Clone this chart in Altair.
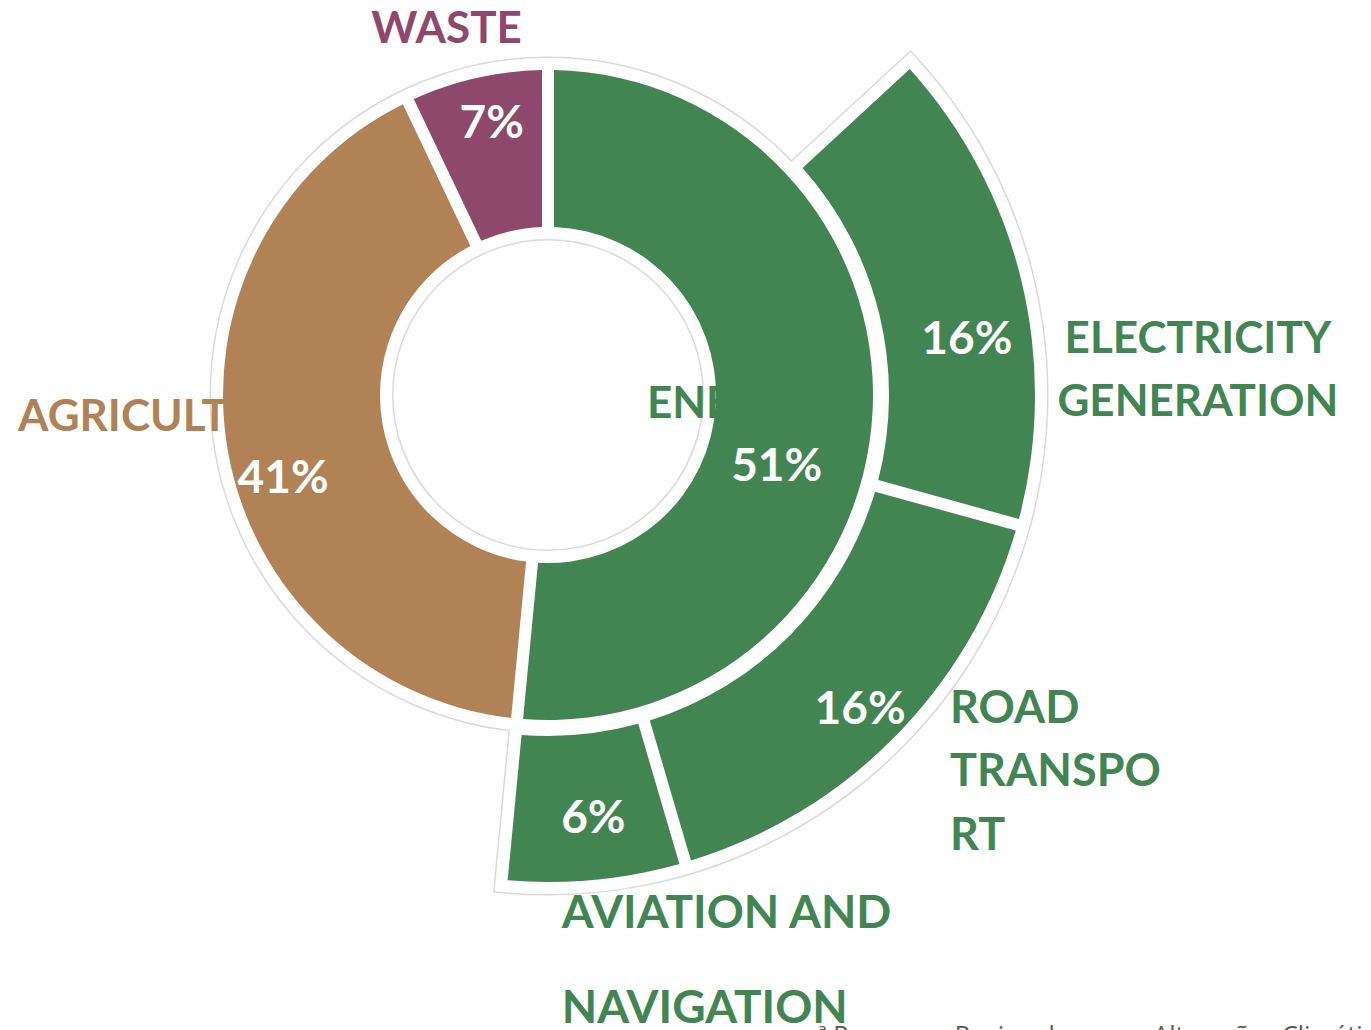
import math
import altair as alt
import pandas as pd

# ---------------- data ----------------
inner_categories = ["ENERGY", "AGRICULTURE", "WASTE"]
inner_values = [51, 41, 7]
inner_colors = ["#438552", "#B08256", "#8E486C"]

outer_categories = ["OTHER ENERGY", "ELECTRICITY GENERATION", "ROAD TRANSPORT",
                    "AVIATION AND NAVIGATION", "NON-ENERGY"]
outer_values = [13, 16, 16, 6, 48]
outer_shown = [False, True, True, True, False]

name_text = {
    "ENERGY": "ENERGY",
    "AGRICULTURE": "AGRICULTURE",
    "WASTE": "WASTE",
    "ELECTRICITY GENERATION": "ELECTRICITY\nGENERATION",
    "ROAD TRANSPORT": "ROAD\nTRANSPO\nRT",
    "AVIATION AND NAVIGATION": "AVIATION AND\nNAVIGATION",
}
footnote = "ª Programa Regional para as Alterações Climáticas dos Açores"

GREEN = "#438552"
TOTAL = sum(inner_values)

inner_df = pd.DataFrame({
    "category": inner_categories,
    "value": inner_values,
    "order": list(range(len(inner_categories))),
    "pct": [f"{v}%" for v in inner_values],
    "name": [name_text[c] for c in inner_categories],
    "shown": [True] * len(inner_categories),
})
outer_df = pd.DataFrame({
    "category": outer_categories,
    "value": outer_values,
    "order": list(range(len(outer_categories))),
    "pct": [f"{v}%" for v in outer_values],
    "name": [name_text.get(c, "") for c in outer_categories],
    "shown": outer_shown,
})

theta_scale = alt.Scale(domain=[0, TOTAL], range=[0, 2 * math.pi])
FONT = "Lato"
NAME_FS = 44
PCT_FS = 46


def stacked(df):
    return (alt.Chart(df)
            .transform_stack(stack="value", as_=["start", "end"], groupby=[],
                             sort=[alt.SortField("order")])
            .transform_calculate(mid="(datum.start + datum.end) / 2"))


inner = stacked(inner_df)
outer = stacked(outer_df)


def ring_bg(base, r_out, r_in, stroke, sw):
    return (base.transform_filter("datum.shown")
            .transform_aggregate(start="min(start)", end="max(end)")
            .mark_arc(radius=r_out, radius2=r_in, fill="white", stroke=stroke, strokeWidth=sw)
            .encode(theta=alt.Theta("start:Q", stack=None, scale=theta_scale),
                    theta2="end:Q"))


# ring geometry (pixels)
IN_R, IN_R2 = 325, 168          # visible inner ring
OUT_R, OUT_R2 = 487, 341        # visible outer ring
GAP = 12
IN_PAD = GAP / math.sqrt(IN_R ** 2 + IN_R2 ** 2)
OUT_PAD = GAP / math.sqrt(OUT_R ** 2 + OUT_R2 ** 2)

gray_layers = [ring_bg(inner, 331, 162, "#dadada", 15),
               ring_bg(outer, 493, 335, "#dadada", 15)]
white_layers = [ring_bg(inner, 331, 162, "white", 12),
                ring_bg(outer, 493, 335, "white", 12)]


def label(base, category, field, radius, dx, dy, align, color, size, line_height=None):
    kw = dict(radius=radius, dx=dx, dy=dy, align=align, baseline="alphabetic",
              font=FONT, fontSize=size, fontWeight="bold", color=color, lineBreak="\n")
    if line_height:
        kw["lineHeight"] = line_height
    return (base.transform_filter(alt.datum.category == category)
            .mark_text(**kw)
            .encode(theta=alt.Theta("mid:Q", stack=None, scale=theta_scale),
                    text=f"{field}:N"))


name_layers = [
    label(inner, "ENERGY", "name", 100, -1, 18, "left", GREEN, NAME_FS),
    label(inner, "AGRICULTURE", "name", 330, -205, -21, "left", "#B08256", NAME_FS),
    label(inner, "WASTE", "name", 365, -21, 4, "center", "#8E486C", NAME_FS),
    label(outer, "ELECTRICITY GENERATION", "name", 640, 28, 109, "center", GREEN, NAME_FS, 63),
    label(outer, "ROAD TRANSPORT", "name", 560, 3, -65, "left", GREEN, 45, 63.5),
    label(outer, "AVIATION AND NAVIGATION", "name", 535, -37, 0, "left", GREEN, 46, 95),
]

inner_arcs = (inner.mark_arc(radius=IN_R, radius2=IN_R2, padAngle=IN_PAD)
              .encode(theta=alt.Theta("start:Q", stack=None, scale=theta_scale),
                      theta2="end:Q",
                      color=alt.Color("category:N", legend=None,
                                      scale=alt.Scale(domain=inner_categories, range=inner_colors))))
outer_arcs = (outer.transform_filter("datum.shown")
              .mark_arc(radius=OUT_R, radius2=OUT_R2, padAngle=OUT_PAD, fill=GREEN)
              .encode(theta=alt.Theta("start:Q", stack=None, scale=theta_scale),
                      theta2="end:Q"))

pct_layers = [
    label(inner, "ENERGY", "pct", 245, -16, 74, "center", "white", PCT_FS),
    label(inner, "AGRICULTURE", "pct", 270, 1, 51, "center", "white", PCT_FS),
    label(inner, "WASTE", "pct", 260, 1, -3, "center", "white", PCT_FS),
    label(outer, "ELECTRICITY GENERATION", "pct", 430, 1, 60, "center", "white", PCT_FS),
    label(outer, "ROAD TRANSPORT", "pct", 445, -5, 17, "center", "white", PCT_FS),
    label(outer, "AVIATION AND NAVIGATION", "pct", 435, 4, 5, "center", "white", PCT_FS),
]

foot = (alt.Chart(pd.DataFrame({"t": [footnote]}))
        .mark_text(align="left", baseline="alphabetic", font="Open Sans", fontSize=25,
                   color="#595959")
        .encode(text="t:N", x=alt.value(810), y=alt.value(1036)))

chart = alt.layer(*gray_layers, *white_layers, *name_layers, inner_arcs, outer_arcs,
                  *pct_layers, foot).properties(
    width=1080, height=774,
    padding={"left": 0, "top": 0, "right": 275, "bottom": 248},
    autosize=alt.AutoSizeParams(type="none"),
).configure_view(stroke=None)

chart.save("out.html", embed_options={"renderer": "svg", "actions": False})
